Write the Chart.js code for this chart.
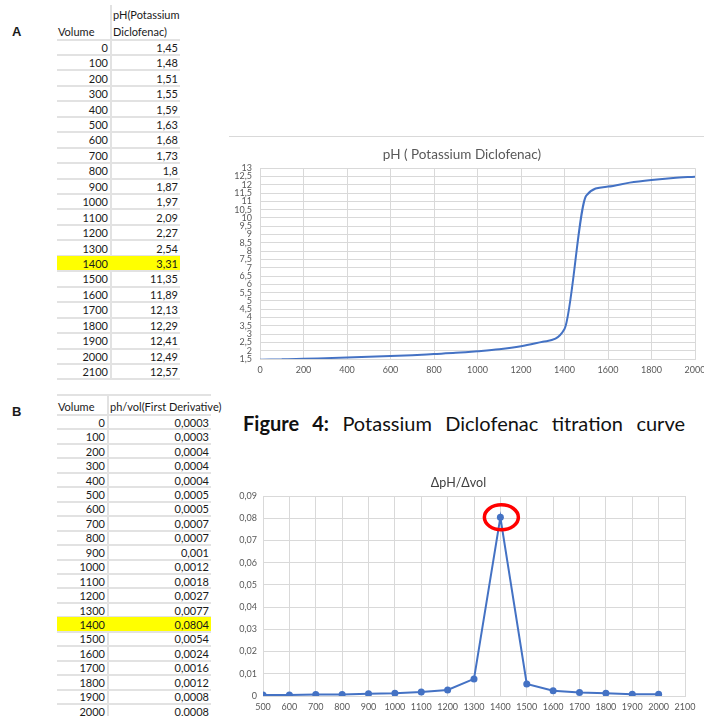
<!DOCTYPE html>
<html>
<head>
<meta charset="utf-8">
<script src="https://cdn.jsdelivr.net/npm/chart.js@4.4.1/dist/chart.umd.min.js"></script>
<style>
  body { margin: 0; width: 704px; height: 716px; overflow: hidden; background: #fff; position: relative;
         font-family: Lato, "Liberation Sans", sans-serif; color: #1a1a1a; }
  .abs { position: absolute; }
  .panel-label { font-family: "Liberation Sans", Arial, sans-serif; font-weight: bold; font-size: 13px; }
  .cell { position: absolute; font-size: 11px; line-height: 15px; white-space: nowrap; }
  .num { text-align: right; }
  .rowline { position: absolute; height: 2px; background: #e2e2e2; }
  .vline { position: absolute; width: 2px; background: #e2e2e2; }
  .hl { position: absolute; background: #ffff00; }
  #caption { left: 243px; top: 411px; width: 442px; font-size: 20px; text-align: justify; text-align-last: justify; color: #111; }
  canvas { position: absolute; }
</style>
</head>
<body>

<div class="abs panel-label" style="left:12px;top:24px;">A</div>
<div class="abs panel-label" style="left:12px;top:404px;">B</div>
<div id="tables"></div>

<div id="caption" class="abs"><b>Figure 4:</b> Potassium Diclofenac titration curve</div>

<div class="abs" style="left:229px;top:136px;width:475px;height:1px;background:#d9d9d9;"></div>
<canvas id="phChart" width="492" height="242" style="left:229px;top:138px;"></canvas>
<canvas id="derivChart" width="472" height="246" style="left:232px;top:470px;"></canvas>

<script>
// titration data
const volumes = [0, 100, 200, 300, 400, 500, 600, 700, 800, 900, 1000,
                 1100, 1200, 1300, 1400, 1500, 1600, 1700, 1800, 1900, 2000, 2100];
const phValues = [1.45, 1.48, 1.51, 1.55, 1.59, 1.63, 1.68, 1.73, 1.8, 1.87, 1.97,
                  2.09, 2.27, 2.54, 3.31, 11.35, 11.89, 12.13, 12.29, 12.41, 12.49, 12.57];

// first derivative dpH/dvol
const derivVolumes = [0, 100, 200, 300, 400, 500, 600, 700, 800, 900, 1000,
                      1100, 1200, 1300, 1400, 1500, 1600, 1700, 1800, 1900, 2000];
const derivValues = [0.0003, 0.0003, 0.0004, 0.0004, 0.0004, 0.0005, 0.0005, 0.0007, 0.0007, 0.001, 0.0012,
                     0.0018, 0.0027, 0.0077, 0.0804, 0.0054, 0.0024, 0.0016, 0.0012, 0.0008, 0.0008];

const equivalenceVolume = 1400;
const derivPlotStart = 500;

const commaNum = v => String(v).replace('.', ',');

// ----- spreadsheet tables -----
const tables = document.getElementById('tables');

function addEl(cls, style, text) {
    const d = document.createElement('div');
    d.className = cls;
    Object.assign(d.style, style);
    if (text !== undefined) d.textContent = text;
    tables.appendChild(d);
    return d;
}

function drawTable(cfg) {
    const { left, split, right, firstRowTop, rowH, xs, ys } = cfg;
    // vertical column separator
    addEl('vline', { left: (split - 1) + 'px', top: cfg.lineTop + 'px', height: (firstRowTop + rowH * xs.length - cfg.lineTop) + 'px' });
    if (cfg.topLine !== undefined) {
        addEl('rowline', { left: left + 'px', top: cfg.topLine + 'px', width: (right - left) + 'px' });
    }
    addEl('rowline', { left: left + 'px', top: (firstRowTop - 1) + 'px', width: (right - left) + 'px' });
    xs.forEach((x, i) => {
        const top = firstRowTop + i * rowH;
        if (x === equivalenceVolume) {
            addEl('hl', { left: left + 'px', top: top + 'px', width: (right - left) + 'px', height: rowH + 'px' });
        }
        addEl('rowline', { left: left + 'px', top: (top + rowH - 1) + 'px', width: (right - left) + 'px' });
        const ty = top + (rowH - 15) / 2;
        addEl('cell num', { left: left + 'px', width: (split - left - 3) + 'px', top: ty + 'px' }, String(x));
        addEl('cell num', { left: split + 'px', width: (right - split - 2) + 'px', top: ty + 'px' }, commaNum(ys[i]));
    });
}

// table A
addEl('cell', { left: '58px', top: '24px' }, 'Volume');
addEl('cell', { left: '113px', top: '7px' }, 'pH(Potassium');
addEl('cell', { left: '113px', top: '24px' }, 'Diclofenac)');
drawTable({ left: 57, split: 111, right: 180, firstRowTop: 39.5, rowH: 15.45, lineTop: 5,
            xs: volumes, ys: phValues });

// table B
addEl('cell', { left: '58px', top: '399px' }, 'Volume');
addEl('cell', { left: '110px', top: '399px' }, 'ph/vol(First Derivative)');
drawTable({ left: 57, split: 108, right: 211, firstRowTop: 415, rowH: 14.45, lineTop: 395, topLine: 394,
            xs: derivVolumes, ys: derivValues });

// ----- charts -----
const gridGray = '#d9d9d9';
const tickGray = '#595959';
const lineBlue = '#4472c4';

new Chart(document.getElementById('phChart'), {
    type: 'line',
    data: {
        datasets: [{
            data: volumes.map((v, i) => ({ x: v, y: phValues[i] })),
            borderColor: lineBlue,
            borderWidth: 2,
            pointRadius: 0,
            cubicInterpolationMode: 'monotone',
            fill: false
        }]
    },
    options: {
        responsive: false,
        animation: false,
        devicePixelRatio: 1,
        layout: { padding: { right: 26 } },
        plugins: {
            legend: { display: false },
            tooltip: { enabled: false },
            title: {
                display: true,
                text: 'pH ( Potassium Diclofenac)',
                color: tickGray,
                font: { family: 'Lato', size: 13.5, weight: 'normal' },
                padding: { top: 9, bottom: 5 }
            }
        },
        scales: {
            x: {
                type: 'linear', min: 0, max: 2000,
                ticks: { stepSize: 200, color: tickGray, font: { family: 'Lato', size: 9 }, padding: 6,
                         maxRotation: 0, callback: v => String(v) },
                grid: { color: gridGray, drawTicks: false },
                border: { color: gridGray },
                afterFit: s => { s.height = 21; }
            },
            y: {
                min: 1.5, max: 13,
                ticks: { stepSize: 0.5, autoSkip: false, color: tickGray, font: { family: 'Lato', size: 9 },
                         padding: 8, callback: v => commaNum(Math.round(v * 10) / 10) },
                grid: { color: gridGray, drawTicks: false },
                border: { color: gridGray },
                afterFit: s => { s.width = 31; }
            }
        }
    }
});

// red ring around the derivative maximum
const peakRing = {
    id: 'peakRing',
    afterDatasetsDraw(chart) {
        const pts = chart.getDatasetMeta(0).data;
        const vals = chart.data.datasets[0].data.map(p => p.y);
        const pt = pts[vals.indexOf(Math.max(...vals))];
        const ctx = chart.ctx;
        ctx.save();
        ctx.strokeStyle = '#ff0000';
        ctx.lineWidth = 3.5;
        ctx.beginPath();
        ctx.ellipse(pt.x + 1, pt.y, 17, 12.5, 0, 0, Math.PI * 2);
        ctx.stroke();
        ctx.restore();
    }
};

const derivPoints = derivVolumes
    .map((v, i) => ({ x: v, y: derivValues[i] }))
    .filter(p => p.x >= derivPlotStart);

new Chart(document.getElementById('derivChart'), {
    type: 'line',
    data: {
        datasets: [{
            data: derivPoints,
            borderColor: lineBlue,
            backgroundColor: lineBlue,
            borderWidth: 2,
            pointRadius: 3.5,
            pointBorderWidth: 0,
            tension: 0,
            fill: false
        }]
    },
    options: {
        responsive: false,
        animation: false,
        devicePixelRatio: 1,
        layout: { padding: { right: 19 } },
        plugins: {
            legend: { display: false },
            tooltip: { enabled: false },
            title: {
                display: true,
                text: '\u0394pH/\u0394vol',
                color: '#404040',
                font: { family: 'Lato', size: 12.5, weight: 'normal' },
                padding: { top: 5, bottom: 6 }
            }
        },
        scales: {
            x: {
                type: 'linear', min: 500, max: 2100,
                ticks: { stepSize: 100, color: tickGray, font: { family: 'Lato', size: 9 }, padding: 6,
                         maxRotation: 0, autoSkip: false, callback: v => String(v) },
                grid: { color: gridGray, drawTicks: false },
                border: { color: gridGray },
                afterFit: s => { s.height = 20; }
            },
            y: {
                min: 0, max: 0.09,
                ticks: { stepSize: 0.01, color: tickGray, font: { family: 'Lato', size: 9 }, padding: 6,
                         callback: v => v === 0 ? '0' : v.toFixed(2).replace('.', ',') },
                grid: { color: gridGray, drawTicks: false },
                border: { color: gridGray },
                afterFit: s => { s.width = 31; }
            }
        }
    },
    plugins: [peakRing]
});
</script>
</body>
</html>
